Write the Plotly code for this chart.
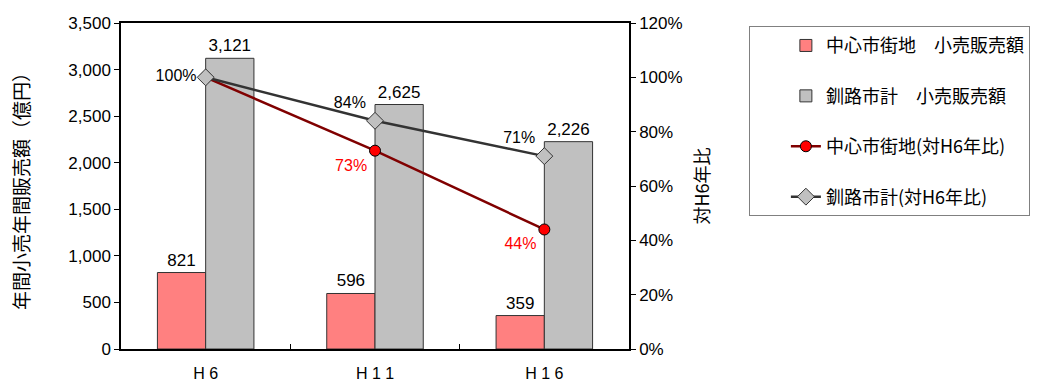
import plotly.graph_objects as go

categories = ["H 6", "H 1 1", "H 1 6"]
center_sales = [821, 596, 359]
city_sales = [3121, 2625, 2226]
center_ratio = [1.00, 0.73, 0.44]
city_ratio = [1.00, 0.84, 0.71]

center_ratio_text = ["", "73%", "44%"]
city_ratio_text = ["100%", "84%", "71%"]

FONT = "Liberation Sans, Arial, Noto Sans CJK JP"
JFONT = "Noto Sans CJK JP, Liberation Sans"

fig = go.Figure()

fig.add_trace(go.Bar(
    x=categories, y=center_sales, name="中心市街地　小売販売額",
    marker=dict(color="#FF8080", line=dict(color="#333333", width=1)),
    text=[f"{v:,}" for v in center_sales], textposition="outside",
    textfont=dict(size=17, color="black", family=FONT),
    cliponaxis=False, legendgroup="a", hoverinfo="skip",
))
fig.add_trace(go.Bar(
    x=categories, y=city_sales, name="釧路市計　小売販売額",
    marker=dict(color="#C0C0C0", line=dict(color="#333333", width=1)),
    text=[f"{v:,}" for v in city_sales], textposition="outside",
    textfont=dict(size=17, color="black", family=FONT),
    cliponaxis=False, legendgroup="b", hoverinfo="skip",
))
fig.add_trace(go.Scatter(
    x=categories, y=center_ratio, yaxis="y2", name="中心市街地(対H6年比)",
    mode="lines+markers+text",
    line=dict(color="#800000", width=2.5),
    marker=dict(symbol="circle", size=11, color="#FF0000", line=dict(color="#000000", width=1)),
    text=center_ratio_text, textposition=["bottom left", "bottom left", "bottom left"],
    textfont=dict(size=16, color="#FF0000", family=FONT),
    cliponaxis=False, legendgroup="c", hoverinfo="skip",
))
fig.add_trace(go.Scatter(
    x=categories, y=city_ratio, yaxis="y2", name="釧路市計(対H6年比)",
    mode="lines+markers+text",
    line=dict(color="#333333", width=2.5),
    marker=dict(symbol="diamond", size=13, color="#C0C0C0", line=dict(color="#333333", width=1)),
    text=city_ratio_text, textposition=["middle left", "top left", "top left"],
    textfont=dict(size=16, color="black", family=FONT),
    cliponaxis=False, legendgroup="d", hoverinfo="skip",
))

fig.update_layout(
    width=1051, height=385,
    margin=dict(l=121, r=422, t=23, b=36),
    paper_bgcolor="white", plot_bgcolor="white",
    font=dict(family=FONT, size=17, color="black"),
    barmode="group", bargap=0.43, bargroupgap=0,
    xaxis=dict(
        showline=True, linecolor="black", linewidth=1.5, mirror=True,
        ticks="inside", tickson="boundaries", ticklen=5, tickcolor="black",
        tickfont=dict(size=16, family=FONT), ticklabelstandoff=9,
        showgrid=False, automargin=False,
    ),
    yaxis=dict(
        range=[0, 3500], dtick=500, tickformat=",",
        showline=True, linecolor="black", linewidth=1.5,
        ticks="outside", ticklen=5, tickcolor="black",
        showgrid=False, zeroline=False, automargin=False,
        tickfont=dict(size=17, family=FONT),
    ),
    yaxis2=dict(
        range=[0, 1.2], dtick=0.2, tickformat=".0%", overlaying="y", side="right",
        showline=True, linecolor="black", linewidth=1.5,
        ticks="outside", ticklen=5, tickcolor="black",
        showgrid=False, zeroline=False, automargin=False,
        tickfont=dict(size=17, family=FONT),
        title=dict(text="対H6年比", font=dict(size=18, family=JFONT)),
    ),
    annotations=[dict(
        text="年間小売年間販売額（億円）", textangle=-90,
        xref="paper", yref="paper", x=-0.199, y=0.5,
        xanchor="center", yanchor="middle", showarrow=False,
        font=dict(size=19, family=JFONT, color="black"),
    )],
    legend=dict(
        x=1.236, y=0.99, xanchor="left", yanchor="top",
        bordercolor="#808080", borderwidth=1, bgcolor="white",
        font=dict(size=18, family=JFONT), tracegroupgap=24,
        traceorder="grouped", indentation=36,
    ),
    showlegend=True,
)

fig.write_html("out.html")
